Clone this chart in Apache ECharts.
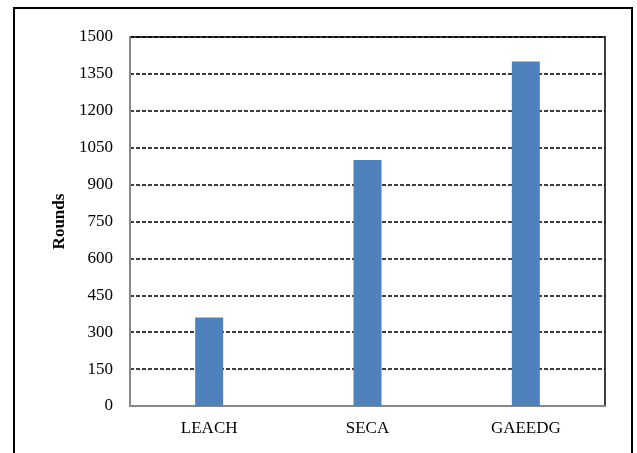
<!DOCTYPE html>
<html><head><meta charset="utf-8">
<script src="https://cdn.jsdelivr.net/npm/echarts@6/dist/echarts.min.js"></script>
<style>html,body{margin:0;padding:0;background:#fff}#c{width:637px;height:453px}</style>
</head><body><div id="c"></div>
<script>
const categories = ['LEACH', 'SECA', 'GAEEDG'];
const rounds = [360, 1000, 1400];
const yTicks = { min: 0, max: 1500, interval: 150 };

const chart = echarts.init(document.getElementById('c'), null, { renderer: 'canvas' });
const font = '"Liberation Serif", "Times New Roman", serif';
chart.setOption({
  animation: false,
  backgroundColor: '#fff',
  graphic: [{
    type: 'rect', z: -1,
    shape: { x: 14, y: 8, width: 618, height: 470 },
    style: { fill: 'none', stroke: '#000', lineWidth: 2 }
  }],
  grid: { left: 130, top: 37, right: 32, bottom: 47, show: true, borderColor: '#000', borderWidth: 1.5, backgroundColor: 'transparent' },
  xAxis: {
    type: 'category', data: categories,
    axisLine: { lineStyle: { color: '#888', width: 2 } },
    axisTick: { show: false },
    axisLabel: { color: '#000', fontFamily: font, fontSize: 17, margin: 14 }
  },
  yAxis: {
    type: 'value', min: yTicks.min, max: yTicks.max, interval: yTicks.interval,
    name: 'Rounds', nameLocation: 'middle', nameGap: 62,
    nameTextStyle: { color: '#000', fontFamily: font, fontSize: 17, fontWeight: 'bold' },
    axisLine: { show: true, lineStyle: { color: '#888', width: 2 } },
    axisTick: { show: false },
    axisLabel: { color: '#000', fontFamily: font, fontSize: 17, margin: 17, formatter: v => String(v) },
    splitLine: { lineStyle: { color: '#000', width: 1.5, type: [4, 2] } }
  },
  series: [{
    type: 'bar', data: rounds, barWidth: 28,
    itemStyle: { color: '#4F81BD' }
  }]
});
</script></body></html>
